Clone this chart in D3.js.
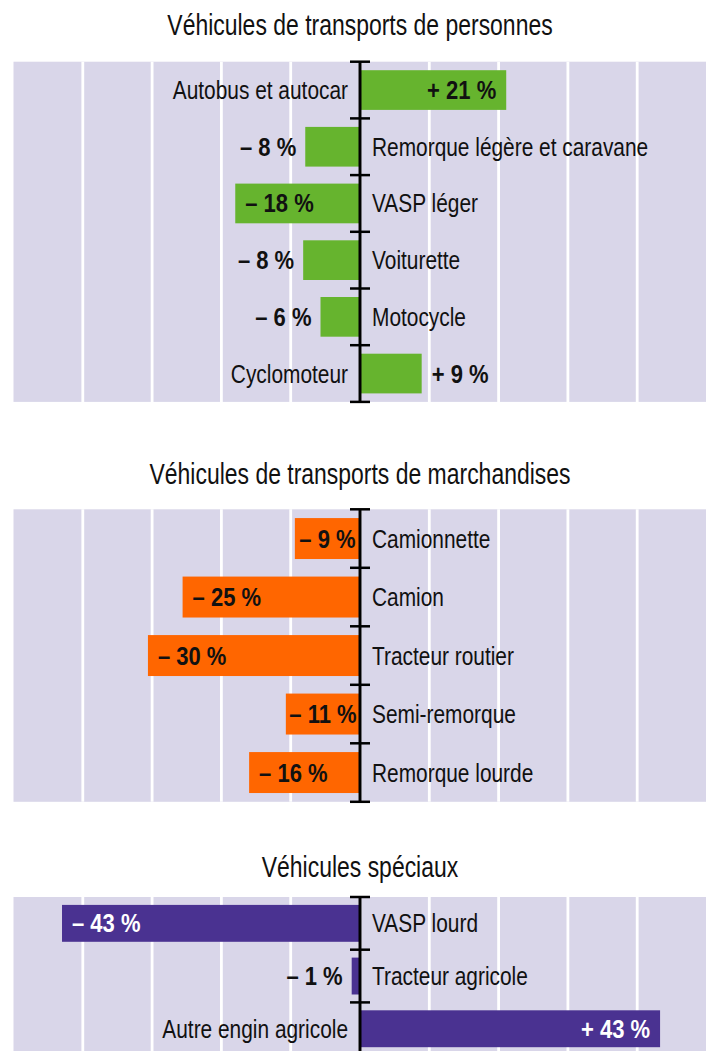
<!DOCTYPE html>
<html>
<head>
<meta charset="utf-8">
<script src="https://cdn.jsdelivr.net/npm/d3@7"></script>
<style>
  html, body { margin: 0; padding: 0; background: #fff; }
  svg { display: block; }
  text { font-family: "Liberation Sans", Arial, sans-serif; }
</style>
</head>
<body>
<svg id="chart" width="706" height="1051"></svg>
<script>
// ---------- DATA ----------
const titles = ["Véhicules de transports de personnes", "Véhicules de transports de marchandises", "Véhicules spéciaux"];

const personnesCategories = ["Autobus et autocar", "Remorque légère et caravane", "VASP léger", "Voiturette", "Motocycle", "Cyclomoteur"];
const personnesValues = [21.1, -7.9, -18.0, -8.2, -5.7, 8.9];
const personnesLabels = ["+ 21 %", "– 8 %", "– 18 %", "– 8 %", "– 6 %", "+ 9 %"];

const marchandisesCategories = ["Camionnette", "Camion", "Tracteur routier", "Semi-remorque", "Remorque lourde"];
const marchandisesValues = [-9.4, -25.6, -30.6, -10.7, -16.0];
const marchandisesLabels = ["– 9 %", "– 25 %", "– 30 %", "– 11 %", "– 16 %"];

const speciauxCategories = ["VASP lourd", "Tracteur agricole", "Autre engin agricole"];
const speciauxValues = [-43.0, -1.2, 43.3];
const speciauxLabels = ["– 43 %", "– 1 %", "+ 43 %"];

const gridTicks = [-40, -30, -20, -10, 0, 10, 20, 30, 40];

// ---------- LAYOUT ----------
const svg = d3.select("#chart");
const x = d3.scaleLinear().domain([-50, 50]).range([13.5, 706.5]);
const x0 = x(0);

const panels = [
  { title: titles[0], cats: personnesCategories, vals: personnesValues, labs: personnesLabels,
    color: "#66b42e", inLabel: "#111", titleY: 35, top: 61.7, step: 56.7 },
  { title: titles[1], cats: marchandisesCategories, vals: marchandisesValues, labs: marchandisesLabels,
    color: "#ff6600", inLabel: "#111", titleY: 484, top: 509.3, step: 58.5 },
  { title: titles[2], cats: speciauxCategories, vals: speciauxValues, labs: speciauxLabels,
    color: "#4a3291", inLabel: "#fff", titleY: 877, top: 897, step: 52.7 }
];

function condense(sel, k) {
  sel.each(function () {
    const l = this.getComputedTextLength();
    this.setAttribute("textLength", l * k);
    this.setAttribute("lengthAdjust", "spacingAndGlyphs");
  });
}

panels.forEach(p => {
  const n = p.cats.length;
  const bottom = p.top + n * p.step;
  const y = d3.scaleBand().domain(p.cats).range([p.top, bottom]).paddingInner(0.3).paddingOuter(0.15);
  const g = svg.append("g");

  // title
  const t = g.append("text")
    .attr("x", x0).attr("y", p.titleY)
    .attr("text-anchor", "middle")
    .attr("font-size", 30).attr("fill", "#111")
    .text(p.title);
  condense(t, 0.765);

  // background
  g.append("rect")
    .attr("x", x.range()[0]).attr("y", p.top)
    .attr("width", x.range()[1] - x.range()[0]).attr("height", bottom - p.top)
    .attr("fill", "#d9d6e9");

  // grid
  g.selectAll("line.grid").data(gridTicks).join("line")
    .attr("x1", d => x(d)).attr("x2", d => x(d))
    .attr("y1", p.top).attr("y2", bottom)
    .attr("stroke", "#fff").attr("stroke-width", 2.8);

  // bars
  g.selectAll("rect.bar").data(p.cats).join("rect")
    .attr("x", (c, i) => Math.min(x(p.vals[i]), x0))
    .attr("width", (c, i) => Math.abs(x(p.vals[i]) - x0))
    .attr("y", c => y(c))
    .attr("height", y.bandwidth())
    .attr("fill", p.color);

  // axis
  g.append("line")
    .attr("x1", x0).attr("x2", x0).attr("y1", p.top).attr("y2", bottom)
    .attr("stroke", "#000").attr("stroke-width", 3);
  g.selectAll("line.tick").data(d3.range(n + 1)).join("line")
    .attr("x1", x0 - 10).attr("x2", x0 + 10)
    .attr("y1", i => p.top + i * p.step).attr("y2", i => p.top + i * p.step)
    .attr("stroke", "#000").attr("stroke-width", 2.5);

  // category labels
  const cl = g.selectAll("text.cat").data(p.cats).join("text")
    .attr("x", (c, i) => p.vals[i] >= 0 ? x0 - 12 : x0 + 12)
    .attr("y", c => y(c) + y.bandwidth() / 2)
    .attr("dy", "0.36em")
    .attr("text-anchor", (c, i) => p.vals[i] >= 0 ? "end" : "start")
    .attr("font-size", 25).attr("fill", "#111")
    .text(c => c);
  condense(cl, 0.835);

  // value labels
  p.cats.forEach((c, i) => {
    const v = p.vals[i];
    const barW = Math.abs(x(v) - x0);
    const inside = barW >= 63;
    const txt = g.append("text")
      .attr("y", y(c) + y.bandwidth() / 2)
      .attr("dy", "0.36em")
      .attr("font-size", 25).attr("font-weight", "bold")
      .attr("fill", inside ? p.inLabel : "#111")
      .text(p.labs[i]);
    condense(txt, 0.88);
    const tw = txt.node().getComputedTextLength();
    if (v >= 0) {
      if (inside) txt.attr("x", x(v) - 10).attr("text-anchor", "end");
      else txt.attr("x", x(v) + 10).attr("text-anchor", "start");
    } else {
      if (inside) {
        const pad = Math.max(2, Math.min(10, (barW - tw) / 2));
        txt.attr("x", x(v) + pad).attr("text-anchor", "start");
      } else txt.attr("x", x(v) - 9).attr("text-anchor", "end");
    }
  });
});
</script>
</body>
</html>
